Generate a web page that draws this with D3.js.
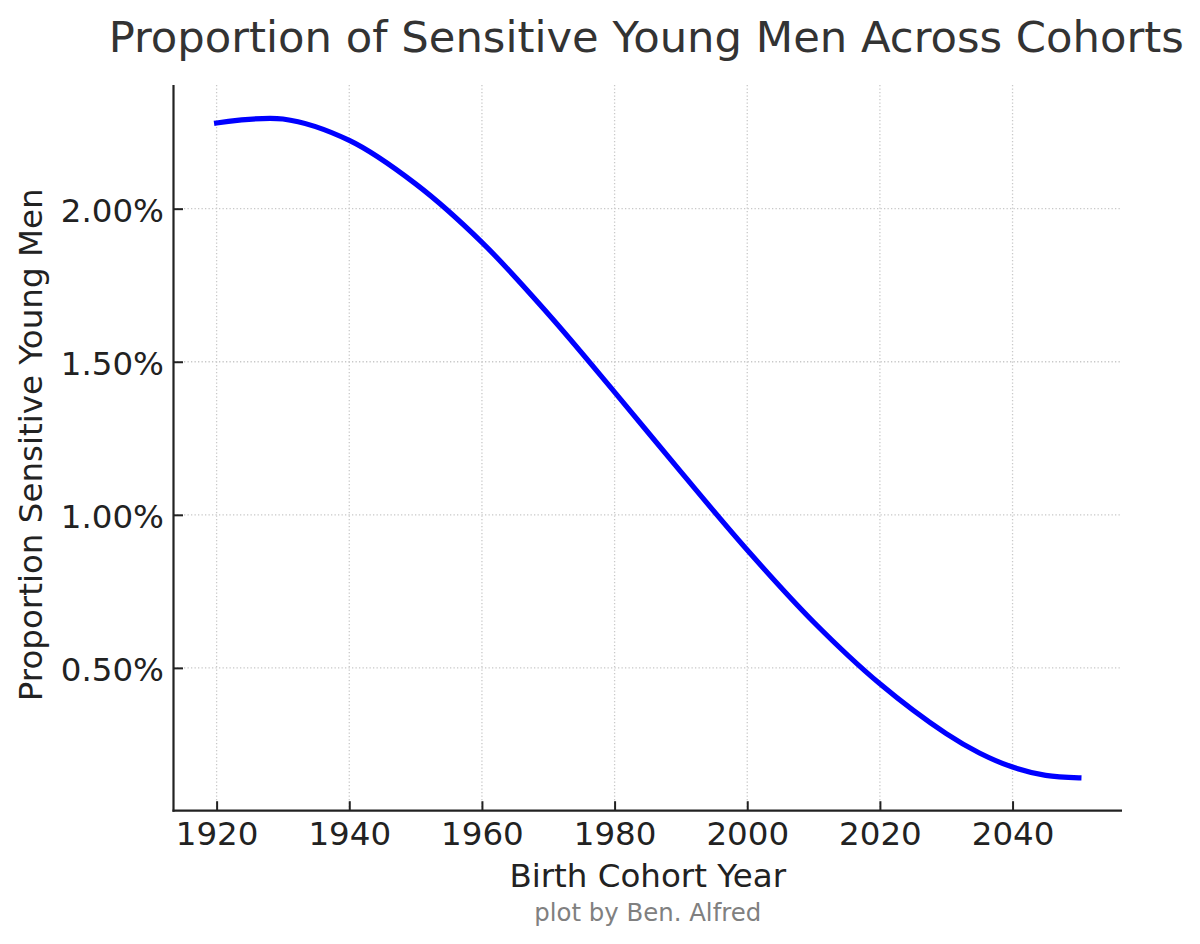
<!DOCTYPE html>
<html>
<head>
<meta charset="utf-8">
<script src="https://cdn.jsdelivr.net/npm/d3@7"></script>
<style>
  html, body { margin: 0; padding: 0; background: #fff; }
  svg { display: block; }
  text { font-family: "DejaVu Sans", sans-serif; }
</style>
</head>
<body>
<svg id="chart" width="1200" height="944"></svg>
<script>
// ---- data ----
const years = [1920, 1930, 1940, 1950, 1960, 1970, 1980, 1990, 2000, 2010, 2020, 2030, 2035, 2040, 2045, 2050];
const proportions = [0.02280, 0.02293, 0.02223, 0.02081, 0.01890, 0.01656, 0.01401, 0.01140, 0.00885, 0.00650, 0.00448, 0.00285, 0.00222, 0.00176, 0.00149, 0.00141];
const xTicks = [1920, 1940, 1960, 1980, 2000, 2020, 2040];
const yTicks = [0.005, 0.010, 0.015, 0.020];

const titleText = "Proportion of Sensitive Young Men Across Cohorts";
const xLabelText = "Birth Cohort Year";
const yLabelText = "Proportion Sensitive Young Men";
const creditText = "plot by Ben. Alfred";

// ---- layout ----
const plotLeft = 173.5, plotRight = 1122, plotTop = 85, plotBottom = 810.7;
const tickFont = 32.5;

const svg = d3.select("#chart");

const data = years.map((yr, i) => ({ year: yr, value: proportions[i] }));

// matplotlib-like 5% margins
const xExt = d3.extent(years);
const xPad = (xExt[1] - xExt[0]) * 0.05;

const x = d3.scaleLinear().domain([xExt[0] - xPad, xExt[1] + xPad]).range([plotLeft, plotRight]);
const y = d3.scaleLinear().domain([0.000335, 0.02404]).range([plotBottom, plotTop]);

// grid
const grid = svg.append("g");
grid.selectAll("line.gx").data(xTicks).join("line")
  .attr("class", "gx")
  .attr("x1", d => x(d)).attr("x2", d => x(d))
  .attr("y1", plotTop).attr("y2", plotBottom)
  .attr("stroke", "#c8c8c8").attr("stroke-width", 1.3)
  .attr("stroke-dasharray", "1.3,2.2");
grid.selectAll("line.gy").data(yTicks).join("line")
  .attr("class", "gy")
  .attr("x1", plotLeft).attr("x2", plotRight)
  .attr("y1", d => y(d)).attr("y2", d => y(d))
  .attr("stroke", "#c8c8c8").attr("stroke-width", 1.3)
  .attr("stroke-dasharray", "1.3,2.2");

// line
const line = d3.line()
  .x(d => x(d.year))
  .y(d => y(d.value))
  .curve(d3.curveCatmullRom.alpha(0.5));

svg.append("path")
  .datum(data)
  .attr("d", line)
  .attr("fill", "none")
  .attr("stroke", "#0000ff")
  .attr("stroke-width", 5.2)
  .attr("stroke-linecap", "square")
  .attr("stroke-linejoin", "round");

// axes
const xAxis = d3.axisBottom(x)
  .tickValues(xTicks)
  .tickFormat(d3.format("d"))
  .tickSizeInner(-9.5)
  .tickSizeOuter(0)
  .tickPadding(11.5);

const yAxis = d3.axisLeft(y)
  .tickValues(yTicks)
  .tickFormat(d3.format(".2%"))
  .tickSizeInner(-9.5)
  .tickSizeOuter(0)
  .tickPadding(9.5);

const gx = svg.append("g").attr("transform", `translate(0,${plotBottom})`).call(xAxis);
const gy = svg.append("g").attr("transform", `translate(${plotLeft},0)`).call(yAxis);

[gx, gy].forEach(g => {
  g.select(".domain").remove();
  g.selectAll(".tick line").attr("stroke", "#222").attr("stroke-width", 2);
  g.selectAll(".tick text")
    .attr("fill", "#222")
    .style("font-family", "DejaVu Sans")
    .style("font-size", tickFont + "px");
});
gy.selectAll(".tick text").attr("dy", "0.4em");

// spines (left and bottom only)
svg.append("line")
  .attr("x1", plotLeft).attr("x2", plotLeft).attr("y1", plotTop).attr("y2", plotBottom + 1)
  .attr("stroke", "#222").attr("stroke-width", 2.2);
svg.append("line")
  .attr("x1", plotLeft - 1).attr("x2", plotRight).attr("y1", plotBottom).attr("y2", plotBottom)
  .attr("stroke", "#222").attr("stroke-width", 2.2);

// title
svg.append("text")
  .attr("x", (plotLeft + plotRight) / 2 - 1.5)
  .attr("y", 52.3)
  .attr("text-anchor", "middle")
  .attr("fill", "#333")
  .style("font-size", "43.3px")
  .text(titleText);

// x label
svg.append("text")
  .attr("x", (plotLeft + plotRight) / 2)
  .attr("y", 886.7)
  .attr("text-anchor", "middle")
  .attr("fill", "#222")
  .style("font-size", tickFont + "px")
  .text(xLabelText);

// y label
svg.append("text")
  .attr("transform", `translate(42,${(plotTop + plotBottom) / 2 - 3}) rotate(-90)`)
  .attr("text-anchor", "middle")
  .attr("fill", "#222")
  .style("font-size", tickFont + "px")
  .text(yLabelText);

// credit
svg.append("text")
  .attr("x", (plotLeft + plotRight) / 2)
  .attr("y", 920.5)
  .attr("text-anchor", "middle")
  .attr("fill", "#808080")
  .style("font-size", "24.4px")
  .text(creditText);
</script>
</body>
</html>
